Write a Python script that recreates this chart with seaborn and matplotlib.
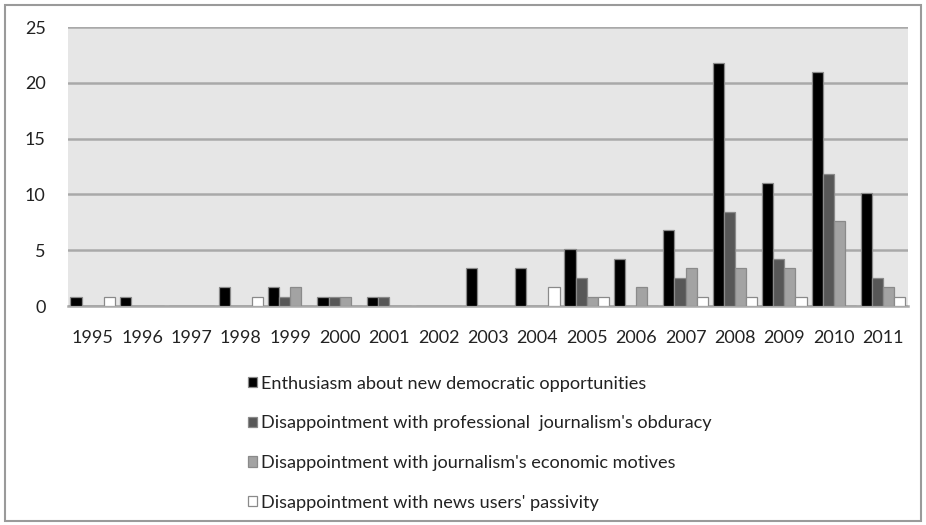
import matplotlib
matplotlib.use("Agg")
import matplotlib.pyplot as plt
from matplotlib.patches import Rectangle
import seaborn as sns
import pandas as pd

years = ["1995", "1996", "1997", "1998", "1999", "2000", "2001", "2002", "2003",
         "2004", "2005", "2006", "2007", "2008", "2009", "2010", "2011"]

enthusiasm = [0.85, 0.85, 0, 1.7, 1.7, 0.85, 0.85, 0, 3.4,
              3.4, 5.1, 4.25, 6.8, 21.8, 11.0, 21.0, 10.1]
obduracy = [0, 0, 0, 0, 0.85, 0.85, 0.85, 0, 0,
            0, 2.55, 0, 2.55, 8.4, 4.25, 11.8, 2.55]
economic = [0, 0, 0, 0, 1.7, 0.85, 0, 0, 0,
            0, 0.85, 1.7, 3.4, 3.4, 3.4, 7.65, 1.7]
passivity = [0.85, 0, 0, 0.85, 0, 0, 0, 0, 0,
             1.7, 0.85, 0, 0.85, 0.85, 0.85, 0, 0.85]

series_names = [
    "Enthusiasm about new democratic opportunities",
    "Disappointment with professional  journalism's obduracy",
    "Disappointment with journalism's economic motives",
    "Disappointment with news users' passivity",
]
series_values = [enthusiasm, obduracy, economic, passivity]
colors = ["#000000", "#575757", "#a3a3a3", "#ffffff"]

rows = []
for name, vals in zip(series_names, series_values):
    for y, v in zip(years, vals):
        rows.append({"year": y, "share": v, "series": name})
df = pd.DataFrame(rows)

sns.set_style("white")
plt.rcParams["font.family"] = ["Lato", "DejaVu Sans"]

fig = plt.figure(figsize=(9.26, 5.25), dpi=100)
ax = fig.add_axes([0.0734, 0.4171, 0.907, 0.5314])
ax.set_facecolor("#e6e6e6")

sns.barplot(data=df, x="year", y="share", hue="series", order=years,
            hue_order=series_names, palette=colors, width=0.9,
            edgecolor="#8a8a8a", linewidth=0.9, ax=ax, legend=True,
            saturation=1, zorder=3)

ax.set_ylim(0, 25)
ax.set_yticks([0, 5, 10, 15, 20, 25])
ax.set_xlim(-0.5, len(years) - 0.5)
ax.yaxis.grid(True, color="#a9a9a9", linewidth=1.8, zorder=0)
ax.set_axisbelow(True)
for side in ["top", "right", "left"]:
    ax.spines[side].set_visible(False)
ax.spines["bottom"].set_color("#a9a9a9")
ax.spines["bottom"].set_linewidth(1.8)
ax.set_xlabel("")
ax.set_ylabel("")
ax.tick_params(axis="both", length=0, labelsize=13, colors="#222222")
ax.tick_params(axis="y", pad=16)
ax.tick_params(axis="x", pad=17)

handles, labels = ax.get_legend_handles_labels()
ax.get_legend().remove()
fig.legend(handles, labels, loc="upper left", bbox_to_anchor=(0.258, 0.302),
           frameon=False, fontsize=13.1, handlelength=0.5, handleheight=0.5,
           handletextpad=0.2, labelspacing=1.3, borderpad=0,
           labelcolor="#222222")

# outer frame around the whole figure
fig.patches.append(Rectangle((0.005, 0.008), 0.99, 0.983, transform=fig.transFigure,
                             fill=False, edgecolor="#9a9a9a", linewidth=1.5))

fig.savefig("out.png", dpi=100)
